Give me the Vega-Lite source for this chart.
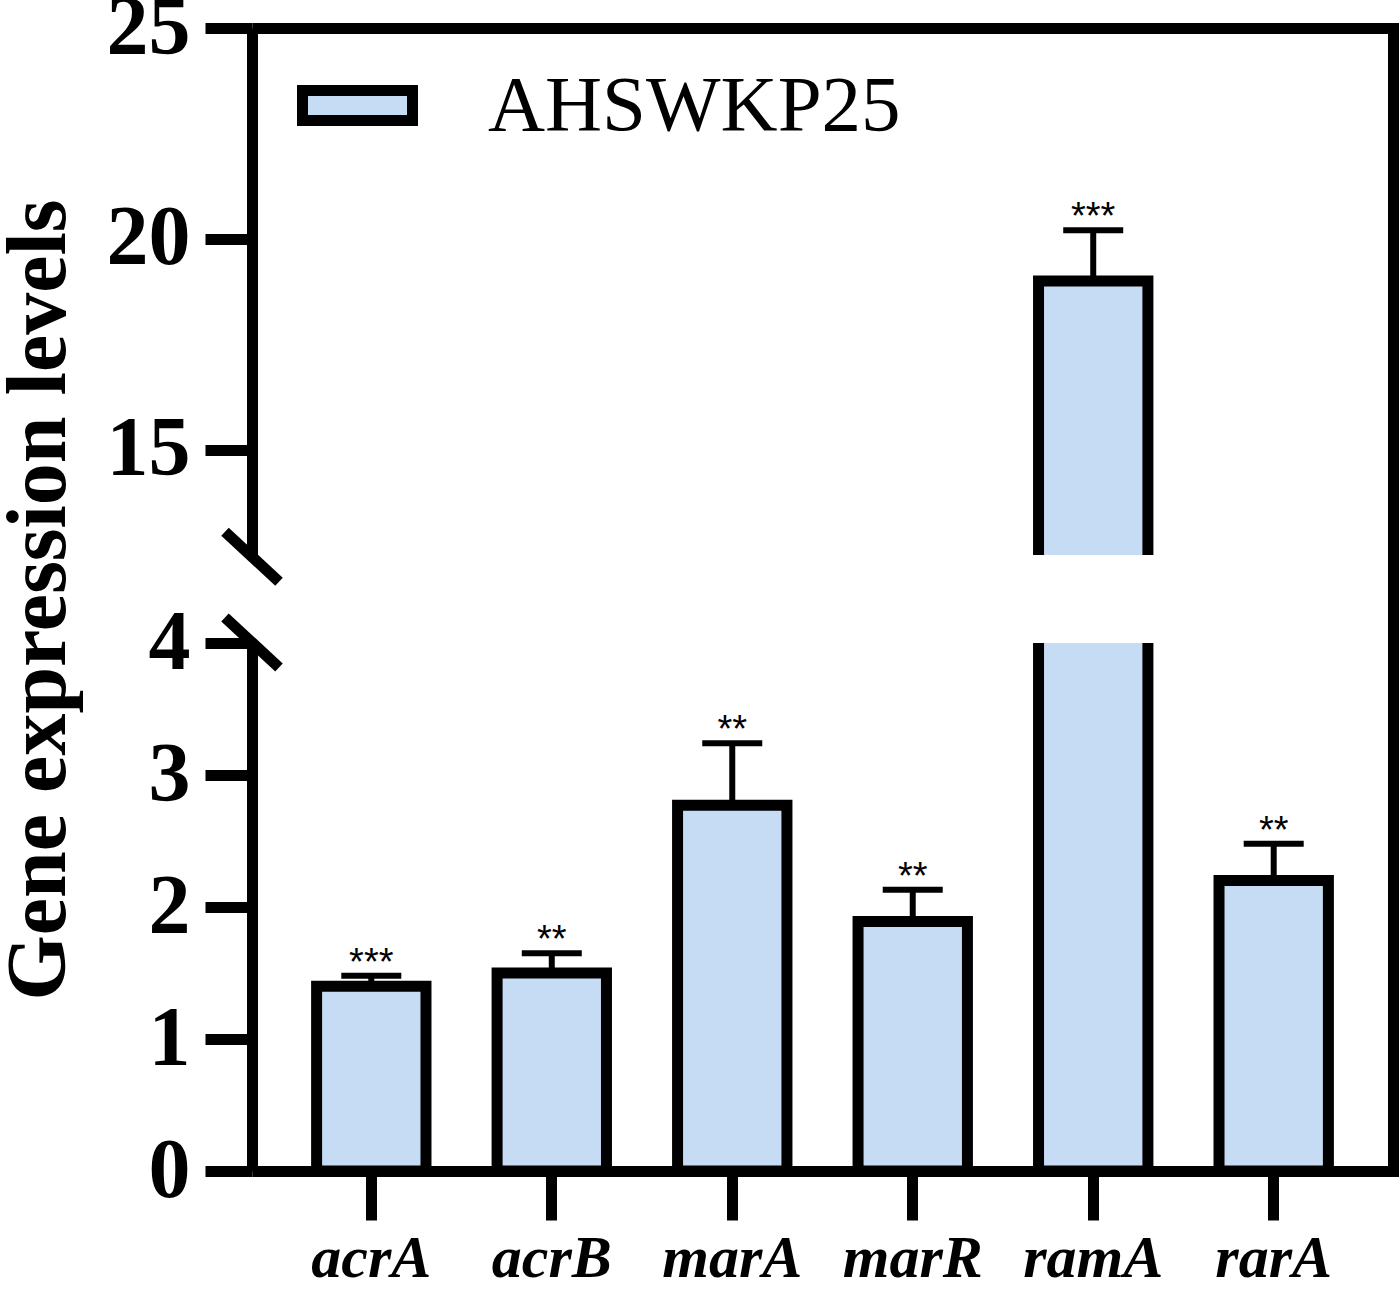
{
  "$schema": "https://vega.github.io/schema/vega-lite/v6.json",
  "autosize": "none",
  "width": 1141,
  "height": 1143,
  "padding": {"left": 252, "top": 28, "right": 7, "bottom": 118},
  "background": "white",
  "data": {
    "values": [
      {"gene": "acrA", "value": 1.40, "upper": 1.48, "sig": "***", "strain": "AHSWKP25"},
      {"gene": "acrB", "value": 1.50, "upper": 1.65, "sig": "**", "strain": "AHSWKP25"},
      {"gene": "marA", "value": 2.77, "upper": 3.24, "sig": "**", "strain": "AHSWKP25"},
      {"gene": "marR", "value": 1.89, "upper": 2.13, "sig": "**", "strain": "AHSWKP25"},
      {"gene": "ramA", "value": 19.0, "upper": 20.2, "sig": "***", "strain": "AHSWKP25"},
      {"gene": "rarA", "value": 2.20, "upper": 2.48, "sig": "**", "strain": "AHSWKP25"}
    ]
  },
  "layer": [
    {
      "encoding": {
        "x": {
          "field": "gene",
          "type": "nominal",
          "sort": null,
          "scale": {"paddingInner": 0.394, "paddingOuter": 0.358}
        }
      },
      "layer": [
        {
          "mark": {"type": "bar", "stroke": "black", "strokeWidth": 11},
          "encoding": {
            "x": {
              "field": "gene",
              "type": "nominal",
              "sort": null,
              "axis": {
                "title": null,
                "labelFont": "Liberation Serif",
                "labelFontStyle": "italic",
                "labelFontWeight": "bold",
                "labelFontSize": 60,
                "labelColor": "black",
                "labelAngle": 0,
                "labelPadding": 9,
                "tickSize": 49,
                "tickWidth": 11,
                "tickColor": "black",
                "domainColor": "black",
                "domainWidth": 11
              }
            },
            "y": {
              "field": "value",
              "type": "quantitative",
              "scale": {"domain": [0, 4, 12.5, 25], "range": [1143, 615, 527, 0], "nice": false, "zero": false},
              "axis": {
                "values": [0, 1, 2, 3, 4, 15, 20, 25],
                "title": "Gene expression levels",
                "titleFont": "Liberation Serif",
                "titleFontSize": 84,
                "titleFontWeight": "bold",
                "titleColor": "black",
                "titlePadding": 24,
                "labelFont": "Liberation Serif",
                "labelFontSize": 84,
                "labelFontWeight": "bold",
                "labelColor": "black",
                "labelPadding": 15,
                "labelFlush": false,
                "labelOverlap": false,
                "tickSize": 47,
                "tickWidth": 11,
                "tickColor": "black",
                "domainColor": "black",
                "domainWidth": 11,
                "domainDash": [528, 88, 600],
                "grid": false
              }
            },
            "color": {
              "field": "strain",
              "type": "nominal",
              "scale": {"range": ["#C6DCF5"]},
              "legend": {
                "title": null,
                "orient": "none",
                "legendX": 45,
                "legendY": 17,
                "symbolType": "M-1,-0.273H1V0.273H-1Z",
                "symbolSize": 12100,
                "symbolStrokeColor": "black",
                "symbolStrokeWidth": 11,
                "symbolOpacity": 1,
                "labelFont": "Liberation Serif",
                "labelFontSize": 79,
                "labelColor": "black",
                "labelOffset": 70,
                "labelLimit": 0
              }
            }
          }
        },
        {
          "transform": [{"filter": "datum.value > 12.5"}],
          "mark": {"type": "bar", "fill": "white", "stroke": null, "width": 126},
          "encoding": {
            "x": {"field": "gene", "type": "nominal", "sort": null, "axis": null},
            "y": {"datum": 4, "type": "quantitative", "axis": null},
            "y2": {"datum": 12.5}
          }
        },
        {
          "mark": {"type": "rule", "strokeWidth": 6, "color": "black"},
          "encoding": {
            "x": {
              "field": "gene",
              "type": "nominal",
              "sort": null,
              "axis": {"orient": "top", "labels": false, "ticks": false, "title": null, "domainColor": "black", "domainWidth": 11}
            },
            "y": {
              "field": "value",
              "type": "quantitative",
              "axis": {"orient": "right", "labels": false, "ticks": false, "title": null, "grid": false, "domainColor": "black", "domainWidth": 11, "domainCap": "square"}
            },
            "y2": {"field": "upper"}
          }
        },
        {
          "mark": {"type": "tick", "size": 60, "thickness": 6, "color": "black", "opacity": 1},
          "encoding": {
            "x": {"field": "gene", "type": "nominal", "sort": null, "axis": null},
            "y": {"field": "upper", "type": "quantitative", "axis": null}
          }
        },
        {
          "mark": {"type": "text", "font": "Liberation Sans", "fontSize": 38, "baseline": "alphabetic", "dy": -1, "color": "black"},
          "encoding": {
            "x": {"field": "gene", "type": "nominal", "sort": null, "axis": null},
            "y": {"field": "upper", "type": "quantitative", "axis": null},
            "text": {"field": "sig"}
          }
        }
      ],
      "resolve": {"axis": {"x": "independent", "y": "independent"}}
    },
    {
      "data": {"values": [{"at": 12.33}, {"at": 4.05}]},
      "mark": {"type": "point", "shape": "M-1,-0.926L1,0.926", "size": 2916, "strokeWidth": 11, "color": "black", "filled": false, "opacity": 1, "strokeCap": "butt"},
      "encoding": {
        "x": {"datum": 0, "type": "quantitative", "scale": {"domain": [0, 1]}, "axis": null},
        "y": {
          "field": "at",
          "type": "quantitative",
          "scale": {"domain": [0, 4, 12.5, 25], "range": [1143, 615, 527, 0], "nice": false, "zero": false},
          "axis": null
        }
      }
    }
  ],
  "resolve": {"scale": {"x": "independent"}},
  "config": {
    "view": {"stroke": null}
  }
}
